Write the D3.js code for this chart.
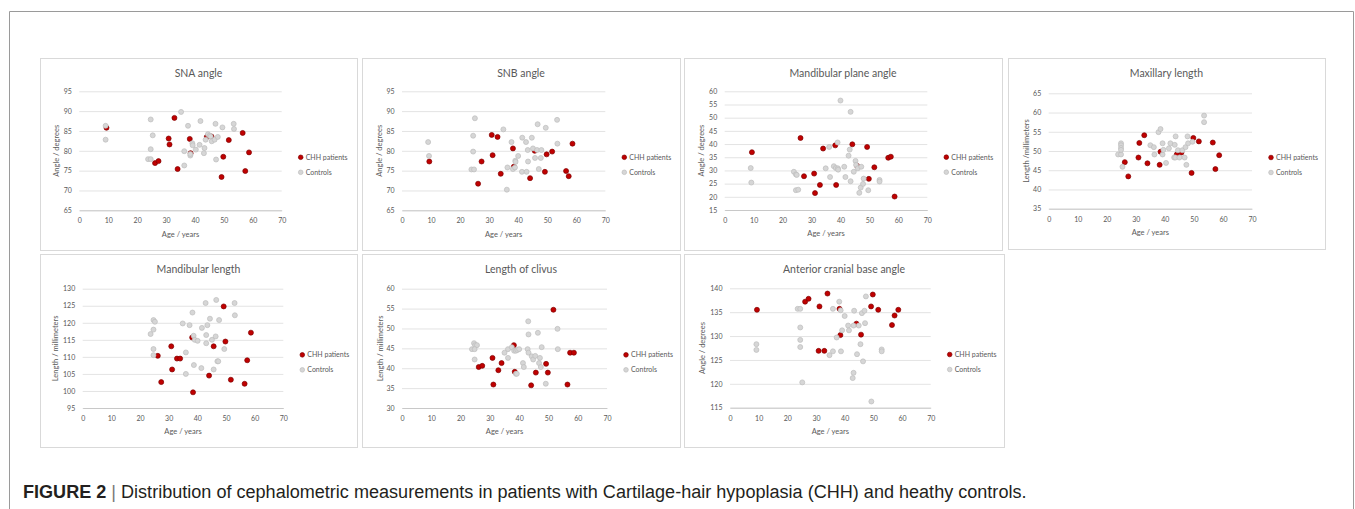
<!DOCTYPE html>
<html>
<head>
<meta charset="utf-8">
<title>Figure 2 cephalometric scatter</title>
<style>
	body { margin: 0; background: #fff; }
	svg { display: block; }
	text { font-family: Lato, 'Open Sans', sans-serif; }
</style>
</head>
<body>
<svg width="1355" height="509"></svg>
<script src="https://d3js.org/d3.v7.min.js"></script>
<script>
	// ages of the CHH patients (same people in every panel)
	const chhAge = [9.4, 26.2, 27.4, 30.9, 31.2, 32.9, 34.0, 38.2, 38.5, 44.1, 45.7, 49.2, 49.8, 51.7, 56.5, 57.4, 58.7]

	// CHH values per measurement, in chhAge order (null = not measured)
	const snaChh  = [85.8, 76.9, 77.4, 83.1, 81.6, 88.3, 75.4, 83.0, 79.4, 83.5, 83.6, 73.4, 78.5, 82.7, 84.5, 74.9, 79.6]
	const snbChh  = [77.3, 71.7, 77.3, 84.0, 78.9, 83.5, 74.2, 80.6, 76.0, 73.1, 80.0, 74.7, 79.1, 79.8, 74.9, 73.6, 81.8]
	const mpaChh  = [36.9, 42.3, 27.8, 28.8, 21.4, 24.5, 38.3, 39.5, 24.5, 39.9, 31.8, 38.9, 26.8, 31.2, 34.8, 35.2, 20.1]
	const maxChh  = [null, 47.1, 43.4, 48.3, 52.1, 54.1, 46.8, 46.4, 49.8, 49.1, 49.6, 44.3, 53.4, 52.5, 52.2, 45.3, 48.9]
	const mlChh   = [null, 110.3, 102.6, 113.1, 106.3, 109.5, 109.5, 115.7, 99.6, 104.5, 113.1, 124.8, 114.5, 103.3, 102.1, 109.0, 117.1]
	const clivChh = [null, 40.3, 40.6, 42.6, 35.9, 39.5, 41.3, 45.8, 39.1, 35.7, 38.9, 41.1, 38.9, 54.7, 35.9, 43.9, 43.9]
	const acbChh  = [135.5, 137.2, 137.8, 126.9, 136.2, 126.9, 138.9, 135.7, 130.2, 132.6, 130.3, 136.2, 138.7, 135.5, 132.3, 134.3, 135.5]

	// controls: [age, value]
	const snaCtrl = [[9.1,86.3],[9.1,82.8],[24.7,87.9],[25.4,83.9],[24.7,80.4],[23.8,77.9],[24.7,77.9],[35.2,89.8],[37.6,86.3],[36.3,79.9],[36.3,76.3],[38.4,78.8],[38.4,79.2],[39.1,81.9],[39.2,81.4],[40.3,80.3],[41.9,87.5],[41.6,81.5],[43.3,80.7],[43.1,79.4],[43.7,82.8],[44.5,84.2],[45.1,83.8],[45.4,83.6],[45.8,82.4],[46.8,82.8],[47.1,86.8],[47.9,83.5],[47.3,77.8],[49.5,85.9],[53.4,86.8],[53.5,85.5]]
	const snbCtrl = [[9.0,82.2],[9.3,78.7],[25.1,88.2],[24.5,83.8],[24.5,79.8],[23.9,75.3],[24.8,75.3],[34.9,85.4],[36.3,75.8],[36.1,70.2],[37.7,82.2],[38.2,75.4],[38.9,75.8],[39.0,77.5],[39.1,77.2],[40.0,78.7],[41.4,83.3],[41.3,74.7],[42.7,82.2],[43.3,80.2],[43.4,77.3],[42.9,74.7],[44.7,83.3],[45.1,80.6],[45.8,78.2],[46.7,86.7],[46.5,80.2],[47.1,75.4],[47.8,78.2],[48.0,80.2],[49.5,85.8],[53.4,87.8],[53.5,81.8]]
	const mpaCtrl = [[9.0,30.9],[9.2,25.4],[23.9,29.5],[24.6,28.5],[24.9,28.3],[24.6,22.5],[25.4,22.7],[34.9,30.8],[36.1,38.9],[36.4,27.5],[37.7,31.6],[38.4,30.9],[39.1,30.8],[39.2,30.3],[39.0,40.6],[40.0,56.5],[41.3,31.4],[41.7,27.5],[42.8,35.6],[43.2,37.9],[43.5,52.2],[43.5,25.9],[44.6,29.5],[45.2,33.6],[45.4,32.1],[46.0,30.8],[46.5,21.5],[47.0,23.5],[47.2,31.4],[47.8,24.9],[48.0,26.9],[49.6,22.5],[53.5,26.4],[53.5,25.8]]
	const maxCtrl = [[23.9,49.1],[24.9,49.1],[24.9,52.0],[24.9,51.5],[24.9,50.8],[24.9,50.3],[25.4,45.9],[35.0,51.5],[36.2,51.0],[36.4,49.1],[37.8,54.9],[38.5,55.7],[39.2,52.0],[39.2,49.1],[39.5,50.3],[40.4,46.9],[41.4,50.7],[41.9,52.0],[43.4,51.6],[43.7,53.8],[43.2,48.3],[43.6,48.3],[44.5,50.2],[45.0,48.3],[46.0,50.2],[46.8,48.3],[47.1,51.0],[47.4,46.4],[47.8,53.8],[48.0,52.0],[49.5,52.4],[53.5,59.2],[53.5,57.5]]
	const mlCtrl = [[23.7,116.7],[24.7,120.8],[25.2,120.3],[24.7,118.0],[24.7,112.3],[24.7,110.5],[34.9,119.8],[36.0,111.3],[36.0,105.0],[37.3,119.3],[38.3,123.0],[38.7,116.2],[39.1,115.0],[40.1,114.7],[38.8,107.6],[41.4,106.7],[41.6,118.5],[42.9,125.8],[43.1,116.4],[43.1,114.0],[43.5,119.3],[44.4,121.2],[45.1,115.0],[45.7,106.3],[46.4,116.0],[46.6,126.7],[47.0,108.7],[47.3,108.7],[47.6,120.8],[49.4,112.3],[53.0,125.8],[53.1,122.2]]
	const clivCtrl = [[23.9,44.8],[24.6,46.3],[25.0,45.8],[25.6,45.8],[24.8,44.8],[24.8,42.2],[35.0,43.9],[36.2,44.8],[36.2,42.6],[37.5,45.3],[38.3,44.4],[38.9,44.4],[39.4,44.6],[40.0,44.8],[38.9,38.6],[39.2,38.6],[41.3,41.3],[41.6,40.3],[42.9,44.8],[43.1,51.8],[43.2,48.5],[43.2,43.9],[44.3,43.0],[44.8,42.2],[45.5,43.1],[46.4,48.9],[46.8,41.3],[47.1,42.6],[47.4,40.3],[47.7,45.3],[49.1,36.1],[53.1,49.9],[53.2,44.8]]
	const acbCtrl = [[9.2,128.3],[9.2,127.1],[23.6,135.7],[24.5,135.7],[24.5,131.8],[24.5,129.2],[24.5,127.7],[25.2,120.3],[34.7,126.0],[35.9,135.7],[35.9,126.8],[37.2,129.7],[38.1,137.2],[38.6,135.4],[39.1,131.2],[38.7,126.8],[40.0,134.2],[41.2,132.2],[41.5,131.2],[43.1,132.2],[43.3,135.3],[43.1,122.3],[42.8,121.2],[44.3,126.2],[44.9,132.2],[45.5,128.3],[46.0,134.8],[46.4,124.7],[46.9,135.3],[47.1,132.7],[47.4,138.3],[49.3,116.3],[52.9,127.2],[52.9,126.8]]

	const titles = ['SNA angle', 'SNB angle', 'Mandibular plane angle', 'Maxillary length', 'Mandibular length', 'Length of clivus', 'Anterior cranial base angle']
	const yLabels = ['Angle / degrees', 'Angle / degrees', 'Angle / degrees', 'Length /millimeters', 'Length / millimeters', 'Length / millimeters', 'Angle / degrees']
	const yDomains = [[65, 95], [65, 95], [15, 60], [35, 65], [95, 130], [30, 60], [115, 140]]
	const xTicks = [0, 10, 20, 30, 40, 50, 60, 70]
	const seriesNames = ['CHH patients', 'Controls']
	const caption = 'Distribution of cephalometric measurements in patients with Cartilage-hair hypoplasia (CHH) and heathy controls.'

	const chhSets = [snaChh, snbChh, mpaChh, maxChh, mlChh, clivChh, acbChh]
	const ctrlSets = [snaCtrl, snbCtrl, mpaCtrl, maxCtrl, mlCtrl, clivCtrl, acbCtrl]

	// layout: panel box and plot rect (left, right, top, bottom), y-title x
	const layout = [
		{box: [40, 58, 317, 192],  plot: [79.3, 281.7, 91.3, 210.3], ytx: 56},
		{box: [362, 58, 318, 192], plot: [402, 605.3, 91.3, 210.3],  ytx: 379.3},
		{box: [684, 58, 318, 192], plot: [724.7, 927.3, 91.3, 210],  ytx: 701.3},
		{box: [1008, 58, 317, 191], plot: [1048.7, 1252, 93.3, 208.7], ytx: 1026},
		{box: [40, 254, 317, 193], plot: [82.7, 283.3, 288.7, 408],  ytx: 55},
		{box: [362, 254, 318, 193], plot: [402, 607, 288.7, 408],    ytx: 380.3},
		{box: [684, 254, 320, 193], plot: [730, 930.7, 288.3, 407.7], ytx: 702.3}
	]

	const red = '#C00000', redEdge = '#7F0000'
	const grey = '#D6D6D6', greyEdge = '#BDBDBD'
	const txt = '#595959'

	let svg = d3.select('svg')

	// outer figure frame
	svg.append('path')
		.attr('d', 'M9.5,509 V11.5 H1353.5 V509')
		.style('fill', 'none')
		.style('stroke', '#9a9a9a')
		.style('stroke-width', 1)

	titles.forEach((title, i) => {
		let L = layout[i]
		let [bx, by, bw, bh] = L.box
		let [pl, pr, pt, pb] = L.plot
		let dom = yDomains[i]

		let g = svg.append('g')

		g.append('rect')
			.attr('x', bx + 0.5).attr('y', by + 0.5)
			.attr('width', bw).attr('height', bh)
			.style('fill', '#fff')
			.style('stroke', '#D9D9D9')

		let x = d3.scaleLinear().domain([0, 70]).range([pl, pr])
		let y = d3.scaleLinear().domain(dom).range([pb, pt])

		// y axis with gridlines
		let yAxis = g.append('g')
			.attr('transform', `translate(${pl},0)`)
			.call(d3.axisLeft(y)
				.tickValues(d3.range(dom[0], dom[1] + 1, 5))
				.tickSize(-(pr - pl))
				.tickPadding(7.5))
		yAxis.select('.domain').remove()
		yAxis.selectAll('line').style('stroke', '#D9D9D9').style('stroke-width', 0.75)
		yAxis.selectAll('text').style('fill', txt).style('font-size', '7px').attr('font-family', null)

		// x axis
		let xAxis = g.append('g')
			.attr('transform', `translate(0,${pb})`)
			.call(d3.axisBottom(x).tickValues(xTicks).tickSize(0).tickPadding(8))
		xAxis.select('.domain').style('stroke', '#BFBFBF').style('stroke-width', 0.75)
		xAxis.selectAll('text').style('fill', txt).style('font-size', '7px').attr('font-family', null)

		// titles
		g.append('text')
			.attr('x', bx + bw / 2).attr('y', by + 19)
			.attr('text-anchor', 'middle')
			.style('font-size', '10.5px')
			.style('fill', txt)
			.text(title)

		g.append('text')
			.attr('x', (pl + pr) / 2).attr('y', pb + 26.2)
			.attr('text-anchor', 'middle')
			.style('font-size', '7.5px')
			.style('fill', txt)
			.text('Age / years')

		let mid = (pt + pb) / 2
		g.append('text')
			.attr('transform', `translate(${L.ytx},${mid}) rotate(-90)`)
			.attr('text-anchor', 'middle')
			.attr('dy', '0.35em')
			.style('font-size', '7.5px')
			.style('fill', txt)
			.text(yLabels[i])

		// CHH series
		let chh = chhAge.map((a, k) => [a, chhSets[i][k]]).filter(d => d[1] != null)
		g.append('g').selectAll('circle')
			.data(chh)
			.join('circle')
			.attr('cx', d => x(d[0]))
			.attr('cy', d => y(d[1]))
			.attr('r', 2.5)
			.style('fill', red)
			.style('stroke', redEdge)
			.style('stroke-width', 0.7)

		// controls
		g.append('g').selectAll('circle')
			.data(ctrlSets[i])
			.join('circle')
			.attr('cx', d => x(d[0]))
			.attr('cy', d => y(d[1]))
			.attr('r', 2.5)
			.style('fill', grey)
			.style('stroke', greyEdge)
			.style('stroke-width', 0.7)

		// legend
		let lx = pr + 19
		seriesNames.forEach((name, k) => {
			let ly = mid + 6.5 + k * 15
			g.append('circle')
				.attr('cx', lx).attr('cy', ly).attr('r', 2.3)
				.style('fill', k == 0 ? red : grey)
				.style('stroke', k == 0 ? redEdge : greyEdge)
				.style('stroke-width', 0.7)
			g.append('text')
				.attr('x', lx + 5).attr('y', ly)
				.attr('dy', '0.35em')
				.style('font-size', '7px')
				.style('fill', txt)
				.text(name)
		})
	})

	// figure caption
	let cap = svg.append('text')
		.attr('x', 0).attr('y', 0)
		.style('font-family', "'Liberation Sans', Arial, sans-serif")
		.style('font-size', '19px')
		.style('fill', '#231F20')
	cap.append('tspan').style('font-weight', 'bold').text('FIGURE 2')
	cap.append('tspan').style('fill', '#777').text(' | ')
	cap.append('tspan').text(caption)

	let w = cap.node().getComputedTextLength()
	cap.attr('transform', `translate(23,498) scale(${1004 / w},1)`)
</script>
</body>
</html>
